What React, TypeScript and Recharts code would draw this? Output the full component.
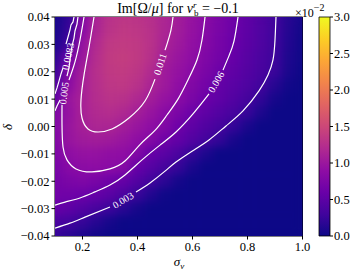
import React from "react";
import { ComposedChart, BarChart, Bar, Scatter, XAxis, YAxis, ReferenceLine } from "recharts";

// grid of the colour map
const SIGMA_NU = [0.1, 0.15, 0.2, 0.25, 0.3, 0.35, 0.4, 0.45, 0.5, 0.55, 0.6, 0.65, 0.7, 0.75, 0.8, 0.85, 0.9, 0.95, 1.0];
const DELTA = [0.04, 0.035, 0.03, 0.025, 0.02, 0.015, 0.01, 0.005, 0, -0.005, -0.01, -0.015, -0.02, -0.025, -0.03, -0.035, -0.04];

// Im[Omega/mu] in units of 1e-3, one row per DELTA value, one column per SIGMA_NU value
const IM_OMEGA = [
  [0.5, 2.0, 8.0, 11.3, 12.8, 13.2, 13.0, 12.5, 11.6, 10.6, 9.5, 8.4, 7.3, 6.3, 5.2, 4.2, 3.0, 1.5, 0.5],
  [0.5, 2.5, 8.5, 11.5, 13.0, 13.5, 13.3, 12.7, 11.5, 10.5, 9.4, 8.2, 7.2, 6.2, 5.1, 4.1, 3.0, 1.4, 0.3],
  [0.8, 3.0, 9.5, 12.0, 13.5, 13.8, 13.5, 12.8, 11.2, 10.2, 9.2, 8.0, 7.0, 6.0, 5.0, 4.0, 2.9, 1.2, 0.2],
  [1.5, 6.5, 10.0, 12.3, 13.7, 14.0, 13.6, 12.6, 10.8, 9.8, 8.9, 7.7, 6.7, 5.7, 4.7, 3.7, 2.8, 1.0, 0.1],
  [2.5, 8.0, 10.8, 12.5, 13.6, 13.8, 13.2, 12.0, 10.3, 9.4, 8.4, 7.3, 6.2, 5.3, 4.4, 3.6, 2.6, 0.8, 0.0],
  [4.0, 8.7, 11.0, 12.4, 13.3, 13.4, 12.8, 11.4, 10.2, 9.0, 7.9, 6.8, 5.5, 4.8, 4.0, 3.1, 1.5, 0.3, 0.0],
  [5.0, 9.8, 11.1, 12.3, 12.9, 12.7, 11.8, 10.6, 9.5, 8.5, 7.3, 6.1, 5.2, 4.3, 3.4, 2.1, 0.6, 0.0, 0.0],
  [7.5, 9.5, 11.1, 12.0, 12.3, 11.8, 10.8, 9.7, 8.5, 7.4, 6.2, 5.2, 4.3, 3.5, 2.5, 1.0, 0.0, 0.0, 0.0],
  [7.8, 9.8, 10.9, 11.6, 11.5, 10.7, 9.8, 8.9, 7.9, 6.3, 5.2, 4.2, 3.4, 2.3, 0.8, 0.0, 0.0, 0.0, 0.0],
  [7.6, 9.7, 10.4, 10.6, 10.3, 9.8, 9.0, 8.0, 6.4, 5.4, 4.3, 3.2, 2.2, 0.7, 0.0, 0.0, 0.0, 0.0, 0.0],
  [7.4, 8.9, 9.4, 9.4, 9.1, 9.0, 7.9, 5.8, 4.8, 3.7, 2.3, 0.9, 0.0, 0.0, 0.0, 0.0, 0.0, 0.0, 0.0],
  [7.0, 8.3, 8.7, 8.8, 8.6, 8.3, 5.7, 4.5, 3.4, 2.3, 0.8, 0.0, 0.0, 0.0, 0.0, 0.0, 0.0, 0.0, 0.0],
  [6.8, 7.4, 7.7, 7.2, 6.4, 5.6, 4.3, 3.1, 1.8, 0.5, 0.0, 0.0, 0.0, 0.0, 0.0, 0.0, 0.0, 0.0, 0.0],
  [6.6, 6.5, 6.2, 5.6, 4.8, 3.8, 2.6, 1.2, 0.2, 0.0, 0.0, 0.0, 0.0, 0.0, 0.0, 0.0, 0.0, 0.0, 0.0],
  [5.8, 5.2, 4.4, 3.6, 2.7, 1.6, 0.6, 0.0, 0.0, 0.0, 0.0, 0.0, 0.0, 0.0, 0.0, 0.0, 0.0, 0.0, 0.0],
  [3.7, 3.2, 2.4, 1.5, 0.6, 0.0, 0.0, 0.0, 0.0, 0.0, 0.0, 0.0, 0.0, 0.0, 0.0, 0.0, 0.0, 0.0, 0.0],
  [2.4, 1.7, 0.9, 0.3, 0.0, 0.0, 0.0, 0.0, 0.0, 0.0, 0.0, 0.0, 0.0, 0.0, 0.0, 0.0, 0.0, 0.0, 0.0],
];

// contour lines, broken where the inline labels sit
const C011_A = [
  { x: 0.2418, y: 0.04 }, { x: 0.2236, y: 0.029 }, { x: 0.2055, y: 0.0188 }, { x: 0.1945, y: 0.0097 },
  { x: 0.1982, y: 0.0031 }, { x: 0.22, y: -0.0009 }, { x: 0.2564, y: -0.002 }, { x: 0.3073, y: -0.0009 },
  { x: 0.3691, y: 0.0031 }, { x: 0.4273, y: 0.0093 }, { x: 0.4636, y: 0.0173 },
];
const C011_B = [{ x: 0.5, y: 0.0279 }, { x: 0.5073, y: 0.0301 }, { x: 0.5218, y: 0.0353 }, { x: 0.5291, y: 0.04 }];
const C009_A = [{ x: 0.2055, y: 0.04 }, { x: 0.1909, y: 0.0316 }, { x: 0.1727, y: 0.0236 }, { x: 0.1509, y: 0.017 }];
const C009_B = [
  { x: 0.1255, y: 0.0079 }, { x: 0.1255, y: 0.0005 }, { x: 0.1291, y: -0.0075 }, { x: 0.1436, y: -0.0122 },
  { x: 0.1764, y: -0.0155 }, { x: 0.2345, y: -0.0166 }, { x: 0.3, y: -0.0155 }, { x: 0.3545, y: -0.0126 },
  { x: 0.4091, y: -0.0066 }, { x: 0.4636, y: -0.0014 }, { x: 0.5073, y: 0.0042 }, { x: 0.5473, y: 0.01 },
  { x: 0.5836, y: 0.017 }, { x: 0.6164, y: 0.0243 }, { x: 0.6345, y: 0.0316 }, { x: 0.6455, y: 0.04 },
];
const C006_A = [
  { x: 0.1, y: -0.0287 }, { x: 0.1364, y: -0.0276 }, { x: 0.1909, y: -0.0261 }, { x: 0.2455, y: -0.0239 },
  { x: 0.3, y: -0.0214 }, { x: 0.3545, y: -0.0177 }, { x: 0.4164, y: -0.0122 }, { x: 0.4818, y: -0.0068 },
  { x: 0.54, y: -0.002 }, { x: 0.6018, y: 0.0046 }, { x: 0.66, y: 0.0119 },
];
const C006_B = [{ x: 0.7109, y: 0.0206 }, { x: 0.7327, y: 0.0258 }, { x: 0.7509, y: 0.0312 }, { x: 0.7655, y: 0.04 }];
const C003_A = [{ x: 0.1, y: -0.0371 }, { x: 0.1545, y: -0.0353 }, { x: 0.2091, y: -0.0331 }, { x: 0.3, y: -0.0294 }];
const C003_B = [
  { x: 0.3945, y: -0.0239 }, { x: 0.4455, y: -0.0206 }, { x: 0.5, y: -0.0163 }, { x: 0.54, y: -0.013 },
  { x: 0.5982, y: -0.009 }, { x: 0.66, y: -0.0049 }, { x: 0.7218, y: 0.0002 }, { x: 0.7836, y: 0.0057 },
  { x: 0.8418, y: 0.013 }, { x: 0.8745, y: 0.0188 }, { x: 0.8927, y: 0.0243 }, { x: 0.9, y: 0.0316 }, { x: 0.9036, y: 0.04 },
];
// noisy contours hugging the left edge
const EDGE_1A = [
  { x: 0.1691, y: 0.04 }, { x: 0.1655, y: 0.0382 }, { x: 0.1582, y: 0.0371 }, { x: 0.1545, y: 0.0353 },
  { x: 0.1473, y: 0.0327 }, { x: 0.14, y: 0.0301 },
];
const EDGE_1B = [{ x: 0.1291, y: 0.0214 }, { x: 0.1218, y: 0.0192 }, { x: 0.1145, y: 0.0166 }, { x: 0.1073, y: 0.0141 }, { x: 0.1, y: 0.0119 }];
const EDGE_2 = [
  { x: 0.1836, y: 0.04 }, { x: 0.18, y: 0.0374 }, { x: 0.1727, y: 0.0349 }, { x: 0.1691, y: 0.0323 },
  { x: 0.1618, y: 0.0294 }, { x: 0.1582, y: 0.0272 }, { x: 0.1545, y: 0.0243 }, { x: 0.1509, y: 0.0214 }, { x: 0.1436, y: 0.0184 },
];
const EDGE_3 = [{ x: 0.1182, y: 0.0097 }, { x: 0.1073, y: 0.0075 }, { x: 0.1, y: 0.0057 }];

const CONTOUR_LABELS = [
  { x: 0.4818, y: 0.0228, text: "0.011" },
  { x: 0.6855, y: 0.0163, text: "0.006" },
  { x: 0.3473, y: -0.0269, text: "0.003" },
  { x: 0.1327, y: 0.0122, text: "0.005" },
  { x: 0.1473, y: 0.0256, text: "0.0083" },
];
const LABEL_ANGLE: Record<string, number> = { "0.011": -72, "0.006": -60, "0.003": -31, "0.005": -82, "0.0083": -78 };

const X_TICKS = [0.2, 0.4, 0.6, 0.8, 1.0];
const Y_TICKS = [-0.04, -0.03, -0.02, -0.01, 0, 0.01, 0.02, 0.03, 0.04];
const CBAR_TICKS = [0, 0.5, 1, 1.5, 2, 2.5, 3];
const CBAR_DATA = [{ name: "scale", top: 3 }];

const PLASMA = ["#0d0887", "#41049d", "#6a00a8", "#8f0da4", "#b12a90", "#cc4778", "#e16462", "#f2844b", "#fca636", "#fcce25", "#f0f921"];
const FONT = "'Liberation Serif', 'DejaVu Serif', serif";

const W = 353;
const H = 270;
const PLOT = { left: 55, top: 17, right: 302.5, bottom: 236 };
const CELL_W = (PLOT.right - PLOT.left) / (SIGMA_NU.length - 1);
const CELL_H = (PLOT.bottom - PLOT.top) / (DELTA.length - 1);

function hex(c: string) {
  return [1, 3, 5].map((i) => parseInt(c.slice(i, i + 2), 16));
}
function plasma(t: number) {
  const u = Math.max(0, Math.min(1, t)) * (PLASMA.length - 1);
  const i = Math.min(Math.floor(u), PLASMA.length - 2);
  const f = u - i;
  const a = hex(PLASMA[i]);
  const b = hex(PLASMA[i + 1]);
  const m = a.map((v, k) => Math.round(v + (b[k] - v) * f));
  return `rgb(${m[0]},${m[1]},${m[2]})`;
}

const heat = DELTA.flatMap((d, i) => SIGMA_NU.map((s, j) => ({ x: s, y: d, v: IM_OMEGA[i][j], i, j })));

function HeatCell(props: any) {
  const { cx, cy, payload } = props;
  const firstCol = payload.j === 0;
  const lastCol = payload.j === SIGMA_NU.length - 1;
  const firstRow = payload.i === 0;
  const lastRow = payload.i === DELTA.length - 1;
  const x0 = firstCol ? cx : cx - CELL_W / 2 - 0.3;
  const x1 = lastCol ? cx : cx + CELL_W / 2 + 0.3;
  const y0 = firstRow ? cy : cy - CELL_H / 2 - 0.3;
  const y1 = lastRow ? cy : cy + CELL_H / 2 + 0.3;
  return <rect x={x0} y={y0} width={x1 - x0} height={y1 - y0} fill={plasma(payload.v / 30)} />;
}

function ContourLabel(props: any) {
  const { cx, cy, payload } = props;
  return (
    <text
      x={cx}
      y={cy}
      transform={`rotate(${LABEL_ANGLE[payload.text]} ${cx} ${cy})`}
      textAnchor="middle"
      dominantBaseline="central"
      fontSize={10}
      fontFamily={FONT}
      fill="#fff"
    >
      {payload.text}
    </text>
  );
}

const NoDot = () => <g />;

const fmt = (v: number, d: number) => v.toFixed(d).replace("-", "\u2212");

export default function App() {
  const contour = (data: any[], key: string, curve: any = "natural") => (
    <Scatter
      key={key}
      data={data}
      dataKey="y"
      line={{ stroke: "#fff", strokeWidth: 1.2, fill: "none" }}
      lineJointType={curve}
      shape={<NoDot />}
      isAnimationActive={false}
    />
  );
  const tickStyle = { fontSize: 12.5, fill: "#000", fontFamily: FONT };

  return (
    <div style={{ position: "absolute", left: 0, top: 0, width: W, height: H, background: "#fff" }}>
      <style>{`.heat-layer{filter:url(#heatBlur);}`}</style>
      <svg width={0} height={0} style={{ position: "absolute" }}>
        <defs>
          <filter id="heatBlur" x="0" y="0" width="1" height="1" colorInterpolationFilters="sRGB">
            <feGaussianBlur stdDeviation="4.5" />
            <feComponentTransfer>
              <feFuncA type="linear" slope="60" />
            </feComponentTransfer>
          </filter>
          <linearGradient id="plasmaBar" x1="0" y1="1" x2="0" y2="0">
            {PLASMA.map((c, k) => (
              <stop key={k} offset={k / (PLASMA.length - 1)} stopColor={c} />
            ))}
          </linearGradient>
        </defs>
      </svg>

      <div style={{ position: "absolute", left: 0, top: 0 }}>
        <ComposedChart
          width={W}
          height={H}
          margin={{ top: PLOT.top, right: W - PLOT.right, bottom: H - PLOT.bottom - 25, left: 0 }}
        >
          <XAxis
            dataKey="x"
            type="number"
            domain={[0.1, 1.0]}
            ticks={X_TICKS}
            tickFormatter={(v) => fmt(v, 1)}
            height={25}
            stroke="#000"
            tickSize={3.5}
            tickMargin={3}
            tick={tickStyle}
            allowDataOverflow
          />
          <YAxis
            type="number"
            domain={[-0.04, 0.04]}
            ticks={Y_TICKS}
            tickFormatter={(v) => fmt(v, 2)}
            width={PLOT.left}
            stroke="#000"
            tickSize={3.5}
            tickMargin={2}
            tick={tickStyle}
            allowDataOverflow
          />
          <Scatter data={heat} dataKey="y" shape={<HeatCell />} className="heat-layer" isAnimationActive={false} />
          {contour(C011_A, "u1")}
          {contour(C011_B, "u2")}
          {contour(C009_A, "a1")}
          {contour(C009_B, "a2")}
          {contour(C006_A, "b1")}
          {contour(C006_B, "b2")}
          {contour(C003_A, "c1")}
          {contour(C003_B, "c2")}
          {contour(EDGE_1A, "e1", "linear")}
          {contour(EDGE_1B, "e2", "linear")}
          {contour(EDGE_2, "e3", "linear")}
          {contour(EDGE_3, "e4", "linear")}
          <Scatter data={CONTOUR_LABELS} dataKey="y" shape={<ContourLabel />} isAnimationActive={false} />
          <ReferenceLine y={0.04} stroke="#000" strokeWidth={1} />
          <ReferenceLine x={1.0} stroke="#000" strokeWidth={1} />
        </ComposedChart>
      </div>

      <div style={{ position: "absolute", left: 300, top: 0 }}>
        <BarChart
          width={53}
          height={H}
          data={CBAR_DATA}
          margin={{ top: PLOT.top, right: 0, bottom: H - PLOT.bottom, left: 19 }}
          barCategoryGap={0}
        >
          <XAxis dataKey="name" hide />
          <YAxis
            orientation="right"
            type="number"
            domain={[0, 3]}
            ticks={CBAR_TICKS}
            tickFormatter={(v) => fmt(v, 1)}
            width={23}
            axisLine={false}
            stroke="#000"
            tickSize={3}
            tickMargin={1}
            tick={tickStyle}
          />
          <Bar dataKey="top" fill="url(#plasmaBar)" stroke="#000" strokeWidth={0.8} isAnimationActive={false} />
        </BarChart>
      </div>

      <svg width={W} height={H} style={{ position: "absolute", left: 0, top: 0, pointerEvents: "none" }} fontFamily={FONT}>
        <text x={178} y={12.5} textAnchor="middle" fontSize={14} fill="#000">
          Im[Ω/<tspan fontStyle="italic">μ</tspan>] for <tspan fontStyle="italic">v</tspan>
          <tspan fontStyle="italic" fontSize={9} dy={-5}>r</tspan>
          <tspan fontSize={9} dx={-2.5} dy={8}>b</tspan>
          <tspan fontSize={14} dy={-3}> = −0.1</tspan>
        </text>
        <text x={295} y={16.5} fontSize={12} fill="#000">
          ×10<tspan fontSize={10} dy={-5.5}>−2</tspan>
        </text>
        <text x={179} y={266} textAnchor="middle" fontSize={13} fill="#000">
          <tspan fontStyle="italic">σ</tspan>
          <tspan fontStyle="italic" fontSize={9} dy={2.5}>ν</tspan>
        </text>
        <text transform="translate(12,127) rotate(-90)" textAnchor="middle" fontSize={13} fontStyle="italic" fill="#000">
          δ
        </text>
      </svg>
    </div>
  );
}
